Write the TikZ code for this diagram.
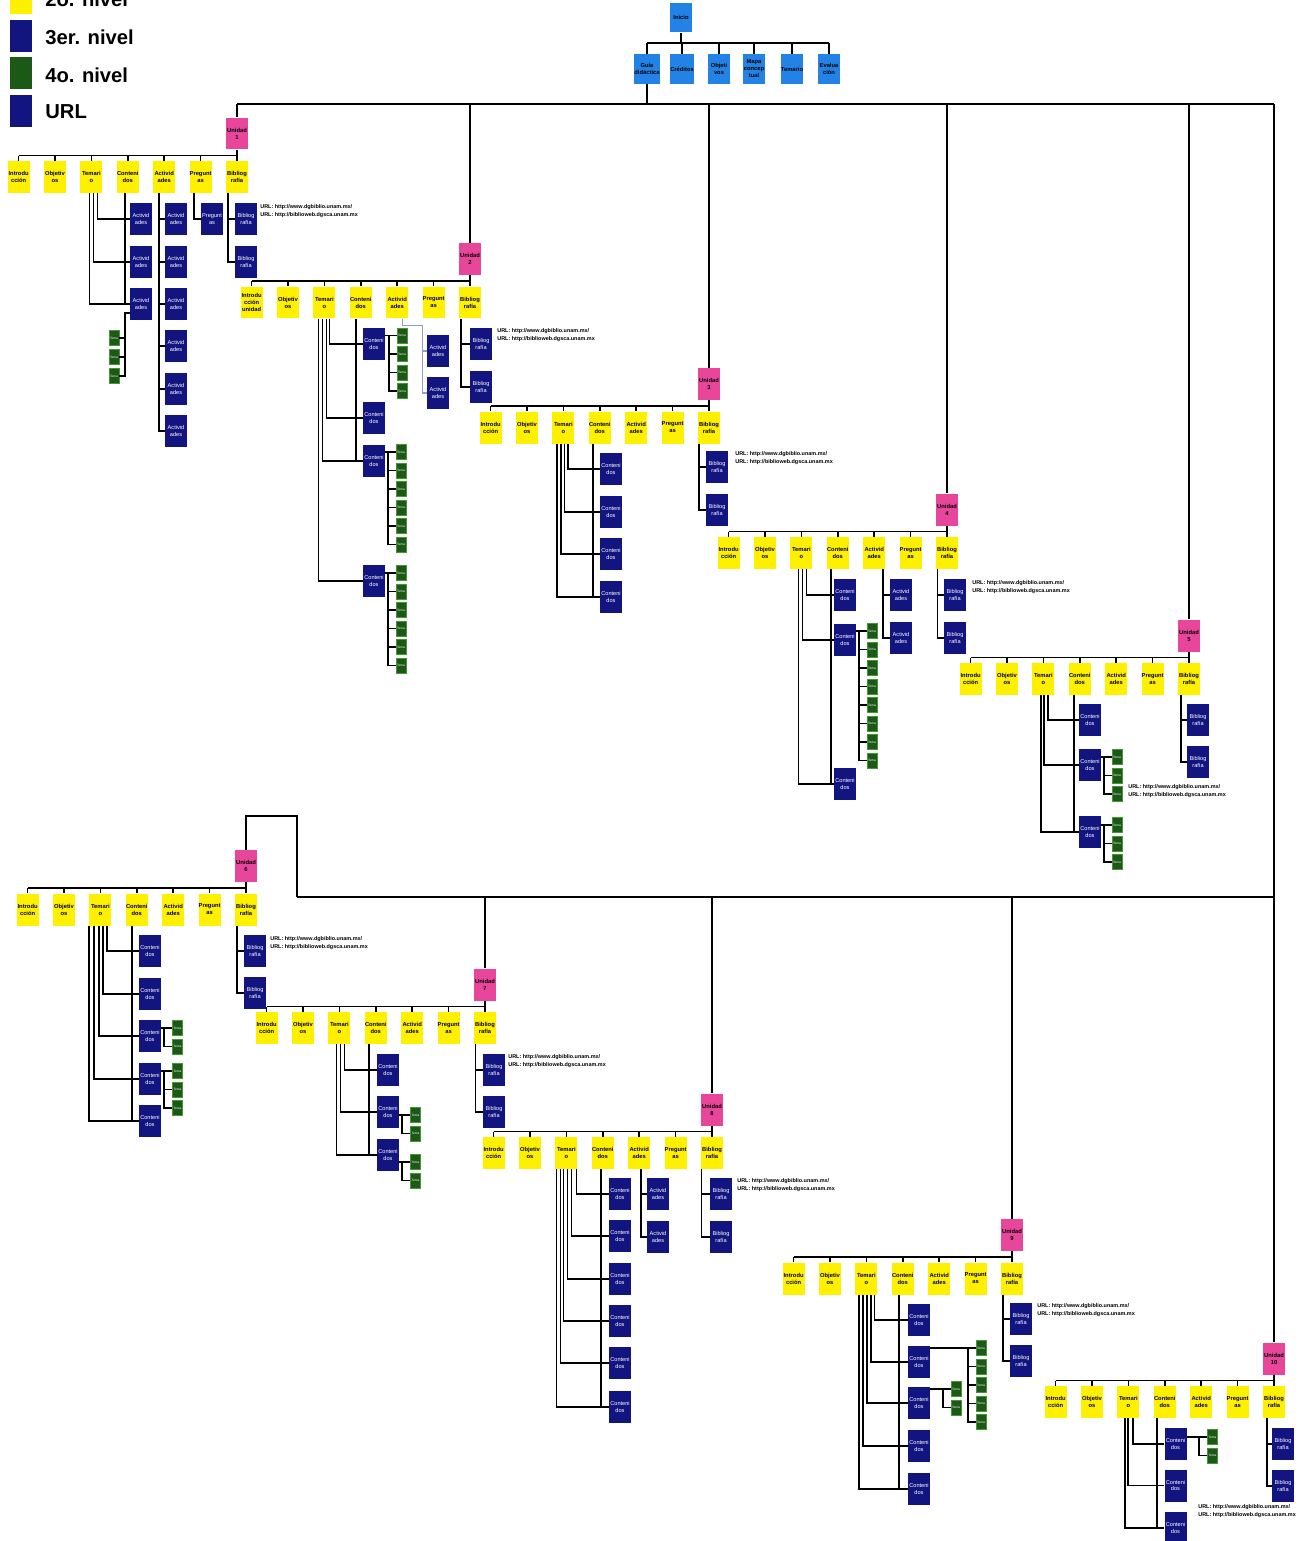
\documentclass[tikz,border=0pt]{standalone}
\usepackage{fontspec}
\usepackage{graphicx}
\setmainfont{Liberation Sans}
\usetikzlibrary{calc}

\definecolor{Yel}{RGB}{255,240,0}
\definecolor{Pnk}{RGB}{232,70,155}
\definecolor{Sky}{RGB}{35,130,230}
\definecolor{Nav}{RGB}{18,20,128}
\definecolor{Grn}{RGB}{28,88,22}
\definecolor{GrnE}{RGB}{70,150,55}
\definecolor{Pale}{RGB}{140,160,205}

\tikzset{
  box/.style={rectangle, inner sep=0pt, align=center,
              minimum width=0.44cm, minimum height=0.64cm},
  yelbox/.style={box, fill=Yel, font=\fontsize{3.3}{4}\selectfont\bfseries},
  pinkbox/.style={box, fill=Pnk, font=\fontsize{3.3}{4}\selectfont\bfseries},
  skybox/.style={box, fill=Sky, minimum height=0.6cm, font=\fontsize{3.3}{4}\selectfont\bfseries},
  navbox/.style={box, fill=Nav, text=white, font=\fontsize{3.2}{3.9}\selectfont},
  grnbox/.style={rectangle, inner sep=0pt, fill=Grn, draw=GrnE, line width=0.3pt,
                 minimum width=0.2cm, minimum height=0.3cm, text=white,
                 font=\fontsize{1.8}{2}\selectfont},
  link/.style={draw=black, line width=1pt},
  pale/.style={draw=Pale, line width=0.6pt},
  urltext/.style={anchor=west, align=left, inner sep=0pt,
                  font=\fontsize{3.1}{4.5}\selectfont\bfseries},
  legsq/.style={rectangle, inner sep=0pt, minimum width=0.44cm, minimum height=0.64cm},
  legtxt/.style={anchor=west, inner sep=0pt, font=\fontsize{11.5}{12}\selectfont\bfseries},
}

% one unit: pink head node and its seven yellow sections
\newcommand\unitblk[5]{%
  \node[pinkbox] (#1p) at (#2,#3) {Unidad\\#4};
  \foreach \i/\ytxt in {1/{#5},2/{Objetiv\\os},3/{Temari\\o},4/{Conteni\\dos},
                        5/{Activid\\ades},6/{Pregunt\\as},7/{Bibliog\\rafía}}
    \node[yelbox] (#1y\i) at ({#2-36.4*(7-\i)},{#3+43.5}) {\ytxt};
  \coordinate (#1bar) at (#2,{#3+22});
  \draw[link] (#1p.south) -- (#1bar);
  \draw[link] (#1bar) -- (#1bar -| #1y1.north);
  \foreach \i in {1,...,7} \draw[link] (#1bar -| #1y\i.north) -- (#1y\i.north);
}
% elbow from a point on the bottom of a section to a child box
\newcommand\tcon[3]{\draw[link] ($(#1.south)+(#2,0)$) |- (#3.west);}
% one vertical bus feeding several child boxes
\newcommand\buscol[3]{%
  \coordinate (tmpbus) at ($(#1.south)+(#2,0)$);
  \foreach \bx in {#3} \draw[link] (tmpbus) |- (\bx.west);
}
% column of fourth-level boxes hanging on the right of a box
\newcommand\greencol[5]{%
  \foreach \k in {1,...,#5}
    \node[grnbox] (#2\k) at (#3,{#4+18.5*(\k-1)}) {Tema};
  \coordinate (#2bus) at ($(#21.west)+(-8,0)$);
  \draw[link] (#1.east |- #21.west) -- (#21.west);
  \draw[link] (#2bus) |- (#2#5.west);
  \foreach \k in {2,...,#5} \draw[link] (#2bus |- #2\k.west) -- (#2\k.west);
}
\newcommand\urla{URL: http://www.dgbiblio.unam.mx/\\URL: http://biblioweb.dgsca.unam.mx}

\begin{document}
\begin{tikzpicture}[x=0.02cm, y=-0.02cm]
\useasboundingbox (0,0) rectangle (1303,1541);
\clip (0,0) rectangle (1303,1541);
\fill[white] (0,0) rectangle (1303,1541);

% legend
\node[legsq, fill=Yel] (lq2) at (21,-2) {};
\node[legsq, fill=Nav] (lq3) at (21,36) {};
\node[legsq, fill=Grn] (lq4) at (21,73) {};
\node[legsq, fill=Nav] (lq5) at (21,111) {};
\node[legtxt] (lt2) at (45,-1) {2o. nivel};
\node[legtxt] (lt3) at (45,37) {3er. nivel};
\node[legtxt] (lt4) at (45,75) {4o. nivel};
\node[legtxt] (lt5) at (45,112) {URL};

% home page and first level
\node[skybox] (root) at (681,17.5) {Inicio};
\node[skybox] (m1) at (647,69) {Guía\\didáctica};
\node[skybox] (m2) at (682,69) {Créditos};
\node[skybox] (m3) at (719,69) {Objeti\\vos};
\node[skybox] (m4) at (754,69) {Mapa\\concep\\tual};
\node[skybox] (m5) at (792,69) {Temario};
\node[skybox] (m6) at (829,69) {Evalua\\ción};
\coordinate (tb) at (681,43);
\draw[link] (root.south) -- (tb);
\draw[link] (tb -| m1) -- (tb -| m6);
\foreach \i in {1,...,6} \draw[link] (tb -| m\i.north) -- (m\i.north);

% ---------------- units ----------------
\unitblk{u1}{237}{133.5}{1}{Introdu\\cción}
\unitblk{u2}{470}{259}{2}{Introdu\\cción\\unidad}
\unitblk{u3}{709}{384}{3}{Introdu\\cción}
\unitblk{u4}{947}{509.5}{4}{Introdu\\cción}
\unitblk{u5}{1189}{635.5}{5}{Introdu\\cción}
\unitblk{u6}{246}{866}{6}{Introdu\\cción}
\unitblk{u7}{485}{984.5}{7}{Introdu\\cción}
\unitblk{u8}{712}{1109.5}{8}{Introdu\\cción}
\unitblk{u9}{1012}{1235}{9}{Introdu\\cción}
\unitblk{u10}{1274}{1358.5}{10}{Introdu\\cción}

% trunk lines
\coordinate (mb) at (647,104);
\draw[link] (m1.south) -- (m1.south |- mb);
\draw[link] (mb -| u1p) -- (mb -| u10p);
\foreach \u in {u1p,u2p,u3p,u4p,u5p,u10p} \draw[link] (mb -| \u.north) -- (\u.north);
\coordinate (sb) at (297,897);
\draw[link] (sb) -- (sb -| u10p);
\foreach \u in {u7p,u8p,u9p} \draw[link] (sb -| \u.north) -- (\u.north);
\draw[link] (sb) -- ++(0,-81) -| (u6p.north);

% ---- unit 1
\foreach \k/\yy in {1/219,2/262,3/304} \node[navbox] (u1t\k) at (141,\yy) {Activid\\ades};
\tcon{u1y3}{6}{u1t1} \tcon{u1y3}{2}{u1t2} \tcon{u1y3}{-2}{u1t3}
\tcon{u1y4}{-3}{u1t3}
\foreach \k/\yy in {1/219,2/262,3/304,4/346,5/389,6/431} \node[navbox] (u1a\k) at (176,\yy) {Activid\\ades};
\buscol{u1y5}{-5}{u1a1,u1a2,u1a3,u1a4,u1a5,u1a6}
\node[navbox] (u1q1) at (212,219) {Pregunt\\as};
\buscol{u1y6}{-6.5}{u1q1}
\node[navbox] (u1b1) at (246,219) {Bibliog\\rafía};
\node[navbox] (u1b2) at (246,262) {Bibliog\\rafía};
\buscol{u1y7}{-9}{u1b1,u1b2}
\node[urltext] (u1url) at (260,211) {\urla};
\foreach \k/\yy in {1/338,2/357,3/376} \node[grnbox] (u1g\k) at (114,\yy) {Tema};
\coordinate (u1gbus) at ($(u1t3.west)+(-5,9)$);
\draw[link] ($(u1t3.west)+(0,9)$) -- (u1gbus) |- (u1g3.east);
\draw[link] (u1gbus |- u1g1.east) -- (u1g1.east);
\draw[link] (u1gbus |- u1g2.east) -- (u1g2.east);

% ---- unit 2
\foreach \k/\yy in {1/344,2/418,3/461,4/581} \node[navbox] (u2t\k) at (374,\yy) {Conteni\\dos};
\tcon{u2y3}{5}{u2t1} \tcon{u2y3}{2}{u2t2} \tcon{u2y3}{-2}{u2t3} \tcon{u2y3}{-6}{u2t4}
\tcon{u2y4}{-5}{u2t3}
\greencol{u2t1}{u2ga}{402}{335.5}{4}
\greencol{u2t3}{u2gb}{401}{452}{6}
\greencol{u2t4}{u2gc}{401}{573}{6}
\node[navbox] (u2a1) at (438,351) {Activid\\ades};
\node[navbox] (u2a2) at (438,393) {Activid\\ades};
\coordinate (u2abus) at ($(u2y5.south)+(25,7)$);
\draw[pale] ($(u2y5.south)+(5,0)$) |- (u2abus) |- (u2a2.west);
\draw[pale] (u2abus |- u2a1.west) -- (u2a1.west);
\node[navbox] (u2b1) at (481,344) {Bibliog\\rafía};
\node[navbox] (u2b2) at (481,387) {Bibliog\\rafía};
\buscol{u2y7}{-9}{u2b1,u2b2}
\node[urltext] (u2url) at (497,335) {\urla};

% ---- unit 3
\foreach \k/\yy in {1/469,2/512,3/554,4/597} \node[navbox] (u3t\k) at (611,\yy) {Conteni\\dos};
\tcon{u3y3}{4.5}{u3t1} \tcon{u3y3}{1}{u3t2} \tcon{u3y3}{-2.5}{u3t3} \tcon{u3y3}{-6.5}{u3t4}
\tcon{u3y4}{-7}{u3t4}
\node[navbox] (u3b1) at (717,467) {Bibliog\\rafía};
\node[navbox] (u3b2) at (717,510) {Bibliog\\rafía};
\buscol{u3y7}{-10}{u3b1,u3b2}
\node[urltext] (u3url) at (735,458) {\urla};

% ---- unit 4
\foreach \k/\yy in {1/595,2/640,3/784} \node[navbox] (u4t\k) at (845,\yy) {Conteni\\dos};
\tcon{u4y3}{5}{u4t1} \tcon{u4y3}{1}{u4t2} \tcon{u4y3}{-3}{u4t3}
\tcon{u4y4}{-7}{u4t3}
\greencol{u4t2}{u4ga}{872}{631}{8}
\node[navbox] (u4a1) at (901,595) {Activid\\ades};
\node[navbox] (u4a2) at (901,638) {Activid\\ades};
\buscol{u4y5}{9}{u4a1,u4a2}
\node[navbox] (u4b1) at (955,595) {Bibliog\\rafía};
\node[navbox] (u4b2) at (955,638) {Bibliog\\rafía};
\buscol{u4y7}{-9.5}{u4b1,u4b2}
\node[urltext] (u4url) at (972,587) {\urla};

% ---- unit 5
\foreach \k/\yy in {1/720,2/765,3/832} \node[navbox] (u5t\k) at (1090,\yy) {Conteni\\dos};
\tcon{u5y3}{4.5}{u5t1} \tcon{u5y3}{0.5}{u5t2} \tcon{u5y3}{-2.5}{u5t3}
\tcon{u5y4}{-6}{u5t3}
\greencol{u5t2}{u5ga}{1117}{757}{3}
\greencol{u5t3}{u5gb}{1117}{825}{3}
\node[navbox] (u5b1) at (1198,720) {Bibliog\\rafía};
\node[navbox] (u5b2) at (1198,762) {Bibliog\\rafía};
\buscol{u5y7}{-8}{u5b1,u5b2}
\node[urltext] (u5url) at (1128,791) {\urla};

% ---- unit 6
\foreach \k/\yy in {1/951,2/994,3/1036,4/1079,5/1121} \node[navbox] (u6t\k) at (150,\yy) {Conteni\\dos};
\tcon{u6y3}{6.6}{u6t1} \tcon{u6y3}{2.6}{u6t2} \tcon{u6y3}{-1.4}{u6t3}
\tcon{u6y3}{-6.4}{u6t4} \tcon{u6y3}{-11.4}{u6t5}
\tcon{u6y4}{-5}{u6t5}
\greencol{u6t3}{u6ga}{177.5}{1028}{2}
\greencol{u6t4}{u6gb}{177.5}{1071}{3}
\node[navbox] (u6b1) at (255,951) {Bibliog\\rafía};
\node[navbox] (u6b2) at (255,993) {Bibliog\\rafía};
\buscol{u6y7}{-9}{u6b1,u6b2}
\node[urltext] (u6url) at (270,943) {\urla};

% ---- unit 7
\foreach \k/\yy in {1/1070,2/1112,3/1155} \node[navbox] (u7t\k) at (388,\yy) {Conteni\\dos};
\tcon{u7y3}{5}{u7t1} \tcon{u7y3}{1}{u7t2} \tcon{u7y3}{-3}{u7t3}
\tcon{u7y4}{-7}{u7t3}
\greencol{u7t2}{u7ga}{415.5}{1115}{2}
\greencol{u7t3}{u7gb}{415.5}{1162}{2}
\node[navbox] (u7b1) at (494,1070) {Bibliog\\rafía};
\node[navbox] (u7b2) at (494,1112) {Bibliog\\rafía};
\buscol{u7y7}{-9.5}{u7b1,u7b2}
\node[urltext] (u7url) at (508,1061) {\urla};

% ---- unit 8
\foreach \k/\yy in {1/1194,2/1236,3/1279,4/1321,5/1363,6/1407} \node[navbox] (u8t\k) at (620,\yy) {Conteni\\dos};
\tcon{u8y3}{10}{u8t1} \tcon{u8y3}{5}{u8t2} \tcon{u8y3}{1}{u8t3}
\tcon{u8y3}{-3}{u8t4} \tcon{u8y3}{-6}{u8t5} \tcon{u8y3}{-10}{u8t6}
\tcon{u8y4}{-1.5}{u8t6}
\node[navbox] (u8a1) at (658,1194) {Activid\\ades};
\node[navbox] (u8a2) at (658,1237) {Activid\\ades};
\buscol{u8y5}{1.5}{u8a1,u8a2}
\node[navbox] (u8b1) at (721,1194) {Bibliog\\rafía};
\node[navbox] (u8b2) at (721,1237) {Bibliog\\rafía};
\buscol{u8y7}{-10.5}{u8b1,u8b2}
\node[urltext] (u8url) at (737,1185) {\urla};

% ---- unit 9
\foreach \k/\yy in {1/1320,2/1362,3/1403,4/1446,5/1489} \node[navbox] (u9t\k) at (919,\yy) {Conteni\\dos};
\tcon{u9y3}{8}{u9t1} \tcon{u9y3}{4.5}{u9t2} \tcon{u9y3}{0.5}{u9t3}
\tcon{u9y3}{-3.5}{u9t4} \tcon{u9y3}{-7.5}{u9t5}
\tcon{u9y4}{-4}{u9t5}
\greencol{u9t2}{u9ga}{981}{1348}{5}
\greencol{u9t3}{u9gb}{956}{1389}{2}
\node[navbox] (u9b1) at (1021,1319) {Bibliog\\rafía};
\node[navbox] (u9b2) at (1021,1361) {Bibliog\\rafía};
\buscol{u9y7}{-9}{u9b1,u9b2}
\node[urltext] (u9url) at (1037,1310) {\urla};

% ---- unit 10
\foreach \k/\yy in {1/1444,2/1485.5,3/1528} \node[navbox] (u10t\k) at (1175.5,\yy) {Conteni\\dos};
\tcon{u10y3}{4.5}{u10t1} \tcon{u10y3}{-0.5}{u10t2} \tcon{u10y3}{-3.5}{u10t3}
\tcon{u10y4}{-8}{u10t3}
\greencol{u10t1}{u10ga}{1212.5}{1437}{2}
\node[navbox] (u10b1) at (1283,1444) {Bibliog\\rafía};
\node[navbox] (u10b2) at (1283,1486) {Bibliog\\rafía};
\buscol{u10y7}{-7}{u10b1,u10b2}
\node[urltext] (u10url) at (1198,1511) {\urla};
\end{tikzpicture}
\end{document}
